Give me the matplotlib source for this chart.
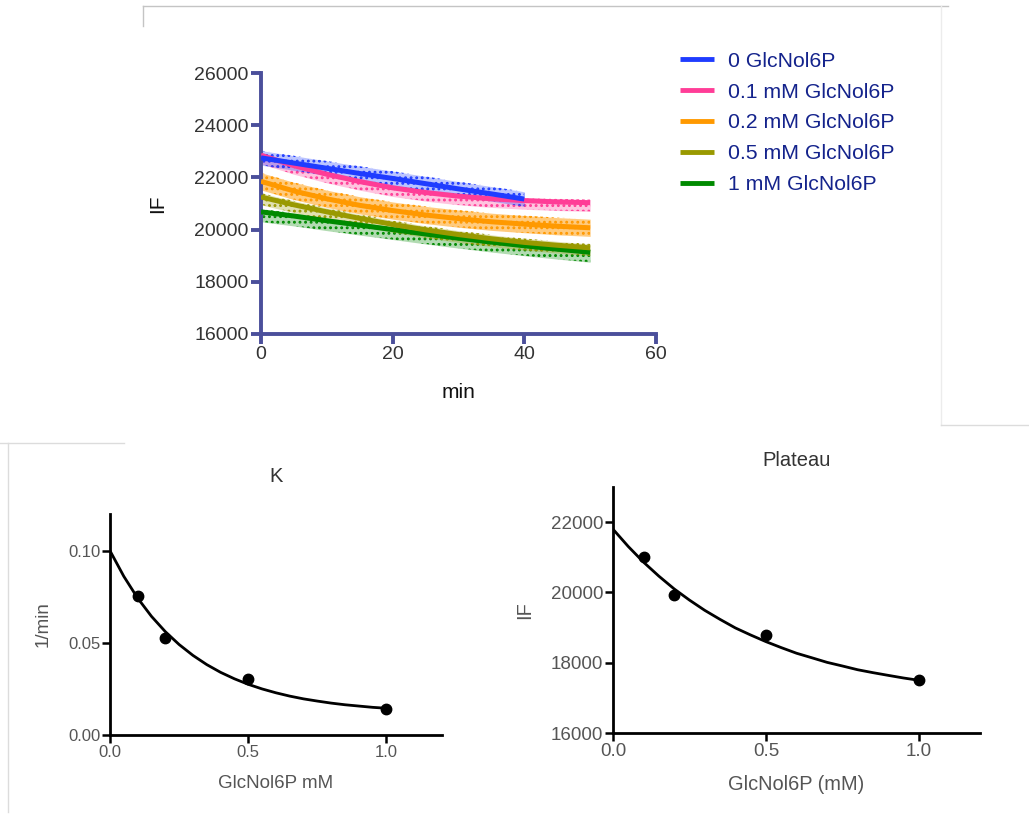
import numpy as np
import matplotlib
matplotlib.use("Agg")
from matplotlib import pyplot as plt
from matplotlib.lines import Line2D

plt.rcParams['font.family'] = ['Liberation Sans', 'DejaVu Sans']
plt.rcParams['hatch.linewidth'] = 1.3

# time course (min), fitted decay curves
time = [0, 5, 10, 15, 20, 25, 30, 35, 40, 45, 50]
labels = ['0 GlcNol6P', '0.1 mM GlcNol6P', '0.2 mM GlcNol6P',
          '0.5 mM GlcNol6P', '1 mM GlcNol6P']
colors = ['#1f3cff', '#ff3d97', '#ff9900', '#999900', '#008a00']
fit_0 = [22750, 22550, 22350, 22150, 21960, 21760, 21560, 21370, 21170]
fit_01 = [22850, 22450, 22120, 21840, 21600, 21420, 21280, 21180, 21110, 21060, 21030]
fit_02 = [21850, 21480, 21180, 20930, 20730, 20560, 20420, 20300, 20210, 20130, 20070]
fit_05 = [21250, 20950, 20680, 20430, 20200, 19990, 19810, 19650, 19510, 19400, 19300]
fit_1 = [20680, 20520, 20340, 20170, 20000, 19830, 19670, 19520, 19380, 19250, 19130]
# approximate extent of the raw data scatter above / below each fit
spread_up = [280, 120, 330, 150, 110]
spread_down = [280, 330, 330, 300, 380]
cloud_alpha = [0.3, 0.3, 0.5, 0.3, 0.3]

# fitted parameters vs concentration
conc = [0.1, 0.2, 0.5, 1.0]
k_vals = [0.0752, 0.0524, 0.0303, 0.0139]
plateau_vals = [21005, 19915, 18777, 17517]
curve_x = [0, 0.05, 0.1, 0.15, 0.2, 0.25, 0.3, 0.35, 0.4, 0.45, 0.5,
           0.55, 0.6, 0.65, 0.7, 0.75, 0.8, 0.85, 0.9, 0.95, 1.0]
k_curve = [0.1000, 0.0861, 0.0743, 0.0644, 0.0561, 0.0491, 0.0432, 0.0382,
           0.0340, 0.0305, 0.0275, 0.0250, 0.0229, 0.0211, 0.0196, 0.0184,
           0.0173, 0.0164, 0.0157, 0.0150, 0.0145]
plateau_curve = [21800, 21306, 20860, 20463, 20100, 19782, 19490, 19233,
                 18990, 18789, 18600, 18430, 18270, 18141, 18010, 17907,
                 17800, 17717, 17640, 17565, 17500]

axis_blue = '#4b4f9b'
fig = plt.figure(figsize=(10.29, 8.15), dpi=100)

# ---- top: time courses
ax = fig.add_axes([0.2536, 0.5902, 0.3839, 0.3202])
fits = [fit_0, fit_01, fit_02, fit_05, fit_1]
order = [4, 3, 2, 1, 0]
for n, i in enumerate(order):
    y = np.array(fits[i])
    t = np.array(time[:len(y)])
    lo, hi = y - spread_down[i], y + spread_up[i]
    ax.fill_between(t, lo, hi, color=colors[i], alpha=cloud_alpha[i],
                    linewidth=0, zorder=2 + n * 0.1)
    ax.fill_between(t, lo, hi, facecolor='none', edgecolor=colors[i],
                    hatch='...', linewidth=0, zorder=2 + n * 0.1)
for n, i in enumerate(order):
    y = fits[i]
    ax.plot(time[:len(y)], y, color=colors[i], lw=3.6, zorder=3 + n * 0.1,
            solid_capstyle='butt')

ax.set_xlim(0, 60)
ax.set_ylim(16000, 26000)
ax.set_xticks([0, 20, 40, 60])
ax.set_yticks(range(16000, 26001, 2000))
for s in ['top', 'right']:
    ax.spines[s].set_visible(False)
for s in ['left', 'bottom']:
    ax.spines[s].set_color(axis_blue)
    ax.spines[s].set_linewidth(2.8)
ax.tick_params(direction='out', length=7, width=2.8, color=axis_blue,
               labelsize=14, labelcolor='#333333', pad=2)
ax.set_xlabel('min', fontsize=15, color='#111111', labelpad=14)
ax.set_ylabel('IF', fontsize=15, color='#111111', labelpad=19.5)

handles = [Line2D([], [], color=c, lw=3.5, solid_capstyle='butt') for c in colors]
leg = fig.legend(handles, labels, loc='upper left', bbox_to_anchor=(0.6526, 0.947),
                 frameon=False, fontsize=15.3, handlelength=1.6, handletextpad=0.66,
                 labelspacing=0.56, borderaxespad=0)
for txt in leg.get_texts():
    txt.set_color('#14238c')


def small_panel(rect, title, title_y, ylabel, xlabel, ylim, yticks, yfmt, xs, ys, cx, cy,
                tick_size, label_size):
    a = fig.add_axes(rect)
    a.plot(cx, cy, color='black', lw=2)
    a.plot(xs, ys, 'o', color='black', ms=7.5)
    a.set_xlim(0, 1.2)
    a.set_ylim(*ylim)
    a.set_xticks([0, 0.5, 1.0])
    a.set_xticklabels(['0.0', '0.5', '1.0'])
    a.set_yticks(yticks)
    a.set_yticklabels([yfmt(v) for v in yticks])
    for s in ['top', 'right']:
        a.spines[s].set_visible(False)
    for s in ['left', 'bottom']:
        a.spines[s].set_linewidth(2)
    a.tick_params(direction='out', length=6, width=1.8, labelsize=tick_size,
                  labelcolor='#555555', pad=1)
    a.set_xlabel(xlabel, fontsize=label_size, color='#555555', labelpad=11)
    a.set_ylabel(ylabel, fontsize=label_size, color='#555555', labelpad=12)
    pos = a.get_position()
    fig.text((pos.x0 + pos.x1) / 2, title_y, title, ha='center', va='center',
             fontsize=14.5, color='#333333')
    return a


small_panel([0.1069, 0.0982, 0.3224, 0.2712], 'K', 1 - 477 / 815, '1/min', 'GlcNol6P mM',
            (0, 0.12), [0, 0.05, 0.10], lambda v: f'{v:.2f}', conc, k_vals, curve_x, k_curve,
            12, 13.5)
small_panel([0.5957, 0.1006, 0.3567, 0.3019], 'Plateau', 1 - 461 / 815, 'IF', 'GlcNol6P (mM)',
            (16000, 23000), [16000, 18000, 20000, 22000], lambda v: f'{v:d}',
            conc, plateau_vals, curve_x, plateau_curve, 13.5, 14.4)

# faint frame edges of the pasted screenshots
W, H = 1029, 815
frame_lines = [((143, 948), (6, 6), '#c4c4c4'), ((143, 143), (6, 26), '#c4c4c4'),
               ((941, 941), (6, 425), '#ececec'), ((941, 1029), (425, 425), '#dcdcdc'),
               ((0, 124), (443, 443), '#dcdcdc'), ((8, 8), (443, 812), '#dcdcdc')]
for (x0, x1), (y0, y1), c in frame_lines:
    fig.add_artist(Line2D([x0 / W, x1 / W], [1 - y0 / H, 1 - y1 / H],
                          transform=fig.transFigure, color=c, lw=1))

fig.savefig('out.png', dpi=100, facecolor='white')
